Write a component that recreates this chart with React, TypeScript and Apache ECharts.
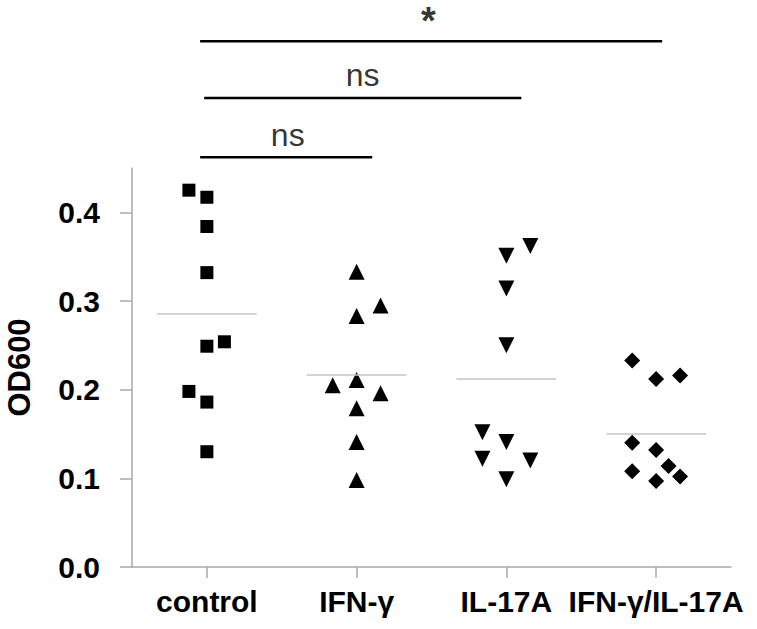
import React, { useEffect, useRef } from "react";
import * as echarts from "echarts";

const categories = ["control", "IFN-γ", "IL-17A", "IFN-γ/IL-17A"];

const controlValues = [0.425, 0.417, 0.384, 0.332, 0.249, 0.254, 0.198, 0.186, 0.13];
const controlJitter = [-0.12, 0, 0, 0, 0, 0.117, -0.12, 0, 0];

const ifngValues = [0.333, 0.295, 0.283, 0.211, 0.205, 0.196, 0.179, 0.141, 0.098];
const ifngJitter = [0, 0.16, 0, 0, -0.16, 0.16, 0, 0, 0];

const il17Values = [0.362, 0.351, 0.314, 0.25, 0.152, 0.141, 0.122, 0.12, 0.099];
const il17Jitter = [0.16, 0, 0, 0, -0.16, 0, -0.16, 0.16, 0];

const comboValues = [0.233, 0.216, 0.212, 0.14, 0.132, 0.114, 0.108, 0.102, 0.097];
const comboJitter = [-0.16, 0.16, 0, -0.16, 0, 0.083, -0.16, 0.16, 0];

const groupMeans = [0.286, 0.217, 0.212, 0.15];

const yTicks = [0, 0.1, 0.2, 0.3, 0.4];

const bracketLabels = ["ns", "ns", "*"];
const bracketFrom = [0, 0, 0];
const bracketTo = [1, 2, 3];
const bracketStartX = [0.455, 0.482, 0.455];
const bracketEndX = [1.604, 2.6, 3.54];
const bracketY = [0.462, 0.529, 0.593];

const FONT = "'Liberation Sans', Arial, Helvetica, sans-serif";
const AXIS_GRAY = "#a8a8a8";

export default function App() {
  const ref = useRef<HTMLDivElement>(null);

  useEffect(() => {
    if (!ref.current) return;
    const chart = echarts.init(ref.current, null, { renderer: "svg" });

    const groups = [
      { values: controlValues, jitter: controlJitter, symbol: "rect", size: 13, rotate: 0 },
      { values: ifngValues, jitter: ifngJitter, symbol: "triangle", size: 16, rotate: 0 },
      { values: il17Values, jitter: il17Jitter, symbol: "triangle", size: 16, rotate: 180 },
      { values: comboValues, jitter: comboJitter, symbol: "diamond", size: 16, rotate: 0 },
    ];

    const scatterSeries = groups.map((g, i) => ({
      type: "scatter",
      xAxisIndex: 1,
      yAxisIndex: 0,
      symbol: g.symbol,
      symbolSize: g.size,
      symbolRotate: g.rotate,
      itemStyle: { color: "#000", opacity: 1 },
      silent: true,
      data: g.values.map((v, k) => [i + 0.5 + g.jitter[k], v]),
      markLine: {
        silent: true,
        symbol: ["none", "none"],
        label: { show: false },
        lineStyle: { color: "#c4c4c4", width: 1.5, type: "solid", opacity: 1 },
        data: [
          [
            { coord: [i + 0.5 - 0.333, groupMeans[i]] },
            { coord: [i + 0.5 + 0.333, groupMeans[i]] },
          ],
        ],
      },
    }));

    const bracketSeries = bracketLabels.map((_, b) => ({
      type: "line",
      xAxisIndex: 1,
      yAxisIndex: 0,
      clip: false,
      silent: true,
      showSymbol: false,
      symbol: "none",
      lineStyle: { color: "#000", width: 2.5, opacity: 1 },
      data: [
        [bracketStartX[b], bracketY[b]],
        [bracketEndX[b], bracketY[b]],
      ],
    }));

    const bracketTextSeries = {
      type: "scatter",
      xAxisIndex: 1,
      yAxisIndex: 0,
      clip: false,
      silent: true,
      symbolSize: 1,
      itemStyle: { color: "transparent" },
      data: bracketLabels.map((lab, b) => ({
        value: [(bracketFrom[b] + bracketTo[b]) / 2 + 0.5 + (lab === "*" ? -0.02 : 0.04), bracketY[b]],
        label: {
          show: true,
          position: "top",
          distance: lab === "*" ? 1 : 5,
          formatter: lab,
          color: "#000",
          fontFamily: FONT,
          fontSize: lab === "*" ? 38 : 32,
          lineHeight: lab === "*" ? 38 : 34,
          fontWeight: lab === "*" ? "bold" : "normal",
        },
      })),
    };

    chart.setOption({
      animation: false,
      backgroundColor: "#fff",
      grid: {
        left: 132,
        right: 26,
        top: 168,
        bottom: 62,
        containLabel: false,
        outerBoundsMode: "none",
      },
      xAxis: [
        {
          type: "category",
          data: categories,
          boundaryGap: true,
          axisLine: { show: true, lineStyle: { color: AXIS_GRAY, width: 1.5 } },
          axisTick: { show: true, alignWithLabel: true, length: 11, lineStyle: { color: AXIS_GRAY, width: 1.5 } },
          axisLabel: {
            interval: 0,
            hideOverlap: false,
            margin: 19,
            color: "#000",
            fontFamily: FONT,
            fontSize: 30,
            fontWeight: "bold",
          },
          splitLine: { show: false },
        },
        { type: "value", min: 0, max: 4, show: false },
      ],
      yAxis: {
        type: "value",
        min: 0,
        max: 0.45,
        name: "OD600",
        nameLocation: "middle",
        nameGap: 97,
        nameTextStyle: { color: "#000", fontFamily: FONT, fontSize: 31, fontWeight: "bold" },
        axisLine: { show: true, lineStyle: { color: AXIS_GRAY, width: 1.5 } },
        axisTick: { show: true, length: 12, customValues: yTicks, lineStyle: { color: AXIS_GRAY, width: 1.5 } },
        axisLabel: {
          customValues: yTicks,
          margin: 32,
          color: "#000",
          fontFamily: FONT,
          fontSize: 30,
          fontWeight: "bold",
          formatter: (v: number) => v.toFixed(1),
        },
        splitLine: { show: false },
      },
      series: [...scatterSeries, ...bracketSeries, bracketTextSeries],
    });

    return () => chart.dispose();
  }, []);

  return <div ref={ref} style={{ width: 757, height: 629, position: "absolute", left: 0, top: 0 }} />;
}
